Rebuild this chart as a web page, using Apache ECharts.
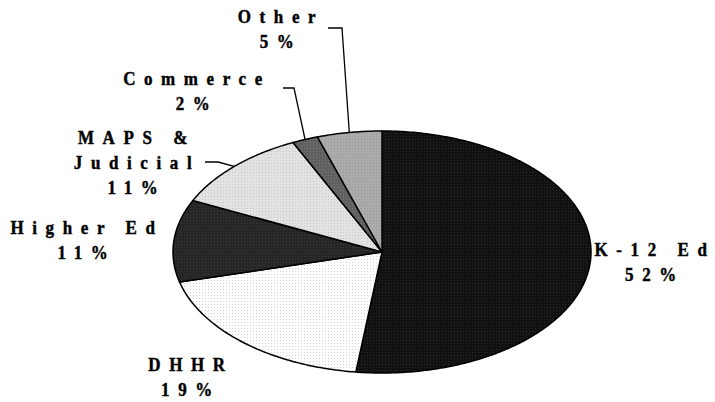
<!DOCTYPE html>
<html>
<head>
<meta charset="utf-8">
<script src="https://cdn.jsdelivr.net/npm/echarts@6/dist/echarts.min.js"></script>
<style>
  html, body { margin: 0; padding: 0; background: #fff; }
  #chart { width: 715px; height: 402px; }
  /* spaced-out label lettering */
  #chart text { letter-spacing: 8.6px; }
</style>
</head>
<body>
<div id="chart"></div>
<script>
// Budget shares by area (percent)
const categories = ['K-12 Ed', 'DHHR', 'Higher Ed', 'MAPS & Judicial', 'Commerce', 'Other'];
const shares = [52, 19, 11, 11, 2, 5];
const labelLines = [['K-12 Ed'], ['DHHR'], ['Higher Ed'], ['MAPS &', 'Judicial'], ['Commerce'], ['Other']];

// ---- presentation ----
// base tone and dot tone of each slice's dithered fill
const tones = [
  ['#111111', '#2a2a2a'], ['#ffffff', '#d4d4d4'], ['#262626', '#3c3c3c'],
  ['#e2e2e2', '#c8c8c8'], ['#606060', '#7a7a7a'], ['#ababab', '#969696']
];
const CX = 382, CY = 252, RX = 209, RY = 121;
const FONT = 'bold 17px "Liberation Serif", "Times New Roman", serif';
const TEXT_STRETCH = 1.05;     // labels are drawn slightly tall
const LINE_H = 25;              // on-screen line pitch
// label block centres
const labelAt = [
  [655, 262], [191, 377.5], [87, 240.5], [137, 163], [197, 91.5], [281, 29.5]
];
// leader lines: text-side start and elbow; the end sits on the slice rim
const leaders = {
  3: [[205, 162], [218, 162]],
  4: [[283, 88], [294, 88]],
  5: [[328, 28], [342, 28]]
};

function dither(base, dot) {
  const c = document.createElement('canvas');
  c.width = 3; c.height = 3;
  const g = c.getContext('2d');
  g.fillStyle = base; g.fillRect(0, 0, 3, 3);
  g.fillStyle = dot; g.fillRect(1, 1, 1, 1);
  return { image: c, repeat: 'repeat' };
}
const fills = tones.map(t => dither(t[0], t[1]));

const total = shares.reduce((a, b) => a + b, 0);

function rim(theta) {
  return [CX + RX * Math.sin(theta), CY - RY * Math.cos(theta)];
}

function renderItem(params, api) {
  const i = params.dataIndex;
  const v = api.value(0);
  let before = 0;
  for (let k = 0; k < i; k++) before += shares[k];
  const a0 = before / total * Math.PI * 2;
  const a1 = (before + v) / total * Math.PI * 2;
  const steps = Math.max(4, Math.ceil((a1 - a0) * 80));
  const pts = [[CX, CY]];
  for (let s = 0; s <= steps; s++) pts.push(rim(a0 + (a1 - a0) * s / steps));

  const children = [{
    type: 'polygon',
    shape: { points: pts },
    style: { fill: fills[i], stroke: '#000', lineWidth: 1.5, lineJoin: 'round' }
  }];

  const pct = Math.round(v / total * 100) + '%';
  const text = labelLines[i].concat([pct]).join('\n');
  children.push({
    type: 'text',
    x: labelAt[i][0], y: labelAt[i][1],
    scaleY: TEXT_STRETCH,
    style: {
      text: text, x: 0, y: 0,
      align: 'center', verticalAlign: 'middle',
      textAlign: 'center', textVerticalAlign: 'middle',
      font: FONT, fill: '#000', stroke: '#000', lineWidth: 0.4,
      lineHeight: LINE_H / TEXT_STRETCH
    }
  });

  if (leaders[i]) {
    const mid = rim((a0 + a1) / 2);
    children.push({
      type: 'polyline',
      shape: { points: leaders[i].concat([mid]) },
      style: { fill: null, stroke: '#000', lineWidth: 1.3 }
    });
  }
  return { type: 'group', children: children };
}

const chart = echarts.init(document.getElementById('chart'), null, { renderer: 'svg' });
chart.setOption({
  animation: false,
  backgroundColor: '#fff',
  series: [{
    type: 'custom',
    coordinateSystem: 'none',
    renderItem: renderItem,
    silent: true,
    data: shares.map((v, i) => ({ name: categories[i], value: [v] }))
  }]
});
</script>
</body>
</html>
